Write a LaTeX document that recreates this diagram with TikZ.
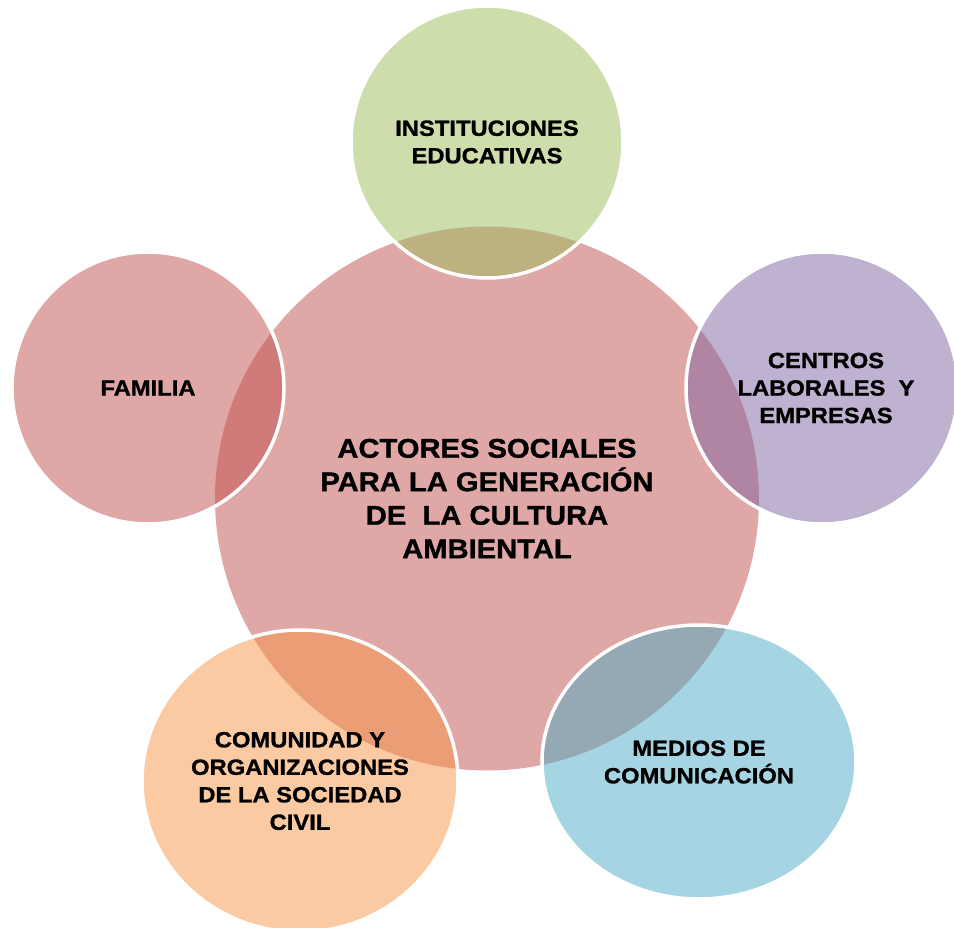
\documentclass[tikz,border=0pt]{standalone}
\usepackage{fontspec}
\setmainfont{Liberation Sans}[FakeStretch=1.08, BoldFeatures={FakeBold=1.2}]
\usetikzlibrary{shapes.geometric}
\definecolor{cred}{HTML}{C0504D}
\definecolor{cgreen}{HTML}{9BBB59}
\definecolor{cpurple}{HTML}{8064A2}
\definecolor{caqua}{HTML}{4BACC6}
\definecolor{corange}{HTML}{F79646}
\tikzset{
  bubble/.style={circle, inner sep=0pt, fill opacity=0.5, text opacity=1,
    draw opacity=1, align=center, text=black,
    font=\bfseries\fontsize{22}{27.5}\selectfont},
  sat/.style={bubble, draw=white, line width=3.5pt},
  oval/.style={sat, ellipse},
  hubtext/.style={font=\bfseries\fontsize{27}{33.5}\selectfont}
}
\begin{document}
\begin{tikzpicture}[x=1pt,y=-1pt]
\useasboundingbox (0,0) rectangle (954,928);
\clip (0,0) rectangle (954,928);
\node[bubble, hubtext, fill=cred, minimum size=544pt] (hub) at (487,498.5)
  {ACTORES SOCIALES\\PARA LA GENERACIÓN\\DE\ \ LA CULTURA\\AMBIENTAL};
\node[sat, fill=cgreen, minimum size=272pt] (edu) at (487,142)
  {INSTITUCIONES\\EDUCATIVAS};
\node[sat, fill=cpurple, minimum size=272pt] (lab) at (822,388)
  {\hspace*{8pt}CENTROS\\\hspace*{8pt}LABORALES\ \ Y\\\hspace*{8pt}EMPRESAS};
\node[sat, fill=cred, minimum size=272pt] (fam) at (148,388)
  {FAMILIA};
\node[oval, fill=caqua, minimum width=314pt, minimum height=274pt] (med) at (699,762)
  {MEDIOS DE\\COMUNICACIÓN};
\node[oval, fill=corange, minimum width=316pt, minimum height=302pt] (com) at (300,781)
  {COMUNIDAD Y\\ORGANIZACIONES\\DE LA SOCIEDAD\\CIVIL};
\end{tikzpicture}
\end{document}
